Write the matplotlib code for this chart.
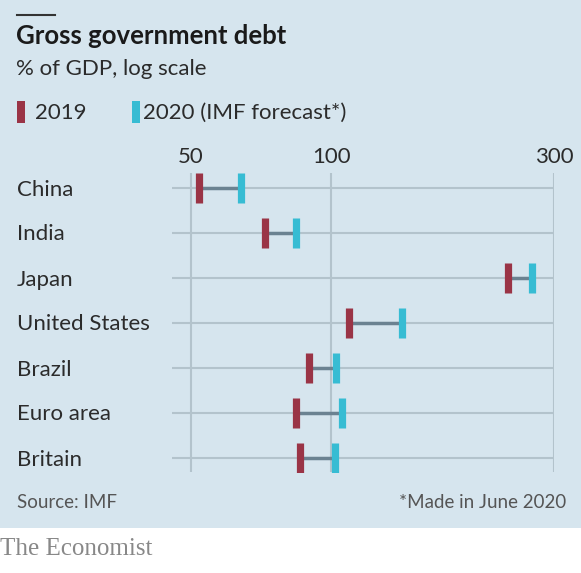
import matplotlib
matplotlib.use('Agg')
import matplotlib.pyplot as plt
from matplotlib.patches import Rectangle
from matplotlib.lines import Line2D
from matplotlib.ticker import NullLocator

countries = ['China', 'India', 'Japan', 'United States', 'Brazil', 'Euro area', 'Britain']
debt_2019 = [52.1, 72.3, 239, 109, 89.7, 84.1, 85.6]
debt_2020 = [64.2, 84.1, 269, 142, 102.5, 105.2, 101.7]
ticks = [50, 100, 300]

W, H = 581, 573
bg = '#d6e5ee'
red = '#9a3446'
cyan = '#37bcd3'
grid = '#b3c3cc'
link = '#6b8291'
txt = '#2b2b2b'

plt.rcParams['font.family'] = ['Lato', 'DejaVu Sans']

fig = plt.figure(figsize=(W / 100, H / 100), dpi=100)
fig.patch.set_facecolor('white')


def fx(px):
    return px / W


def fy(py):
    return 1 - py / H


# background panel and the short rule above the title
fig.patches.append(Rectangle((0, fy(528)), 1, 1 - fy(528), transform=fig.transFigure,
                             facecolor=bg, edgecolor='none', zorder=-10))
fig.lines.append(Line2D([fx(17), fx(55)], [fy(15), fy(15)], transform=fig.transFigure,
                        color='#333333', lw=1.5))

fig.text(fx(16), fy(36), 'Gross government debt', fontsize=18.5, fontweight='bold',
         color='#1a1a1a', va='center')
fig.text(fx(16), fy(69), '% of GDP, log scale', fontsize=16, color=txt, va='center')

# legend
fig.patches.append(Rectangle((fx(17), fy(123)), fx(8), fy(101) - fy(123),
                             transform=fig.transFigure, facecolor=red, edgecolor='none'))
fig.text(fx(35), fy(113), '2019', fontsize=16, color=txt, va='center')
fig.patches.append(Rectangle((fx(132), fy(123)), fx(8), fy(101) - fy(123),
                             transform=fig.transFigure, facecolor=cyan, edgecolor='none'))
fig.text(fx(143), fy(113), '2020 (IMF forecast*)', fontsize=16, color=txt, va='center')

ax = fig.add_axes([fx(172), fy(472), fx(554 - 172), fy(173) - fy(472)])
ax.set_facecolor('none')
ax.set_xscale('log')
xmin = 45.6
ax.set_xlim(xmin, 300)
ax.set_ylim(6.318, -0.327)

for t in ticks:
    ax.axvline(t, color=grid, lw=1.5, zorder=1)

rows = list(range(len(countries)))
ax.hlines(rows, xmin, 300, color=grid, lw=1.5, zorder=1)
ax.hlines(rows, debt_2019, debt_2020, color=link, lw=2.5, zorder=2)
ax.plot(debt_2019, rows, ls='none', marker='|', ms=21.5, mew=5.2, color=red, zorder=3)
ax.plot(debt_2020, rows, ls='none', marker='|', ms=21.5, mew=5.2, color=cyan, zorder=3)

ax.xaxis.tick_top()
ax.set_xticks(ticks)
ax.set_xticklabels([str(t) for t in ticks])
ax.xaxis.set_minor_locator(NullLocator())
ax.tick_params(axis='x', length=0, pad=4, labelsize=16, labelcolor=txt)
ax.set_yticks([])
for s in ax.spines.values():
    s.set_visible(False)

for i, c in enumerate(countries):
    fig.text(fx(17), fy(189.5 + 45 * i), c, fontsize=16, color=txt, va='center')

fig.text(fx(17), fy(503), 'Source: IMF', fontsize=13.5, color='#555555', va='center')
fig.text(fx(566), fy(503), '*Made in June 2020', fontsize=13.5, color='#555555',
         va='center', ha='right')
fig.text(fx(0), fy(549), 'The Economist', fontsize=18, color='#888888', va='center',
         family='Liberation Serif')

fig.savefig('out.png', dpi=100, facecolor=fig.get_facecolor())
